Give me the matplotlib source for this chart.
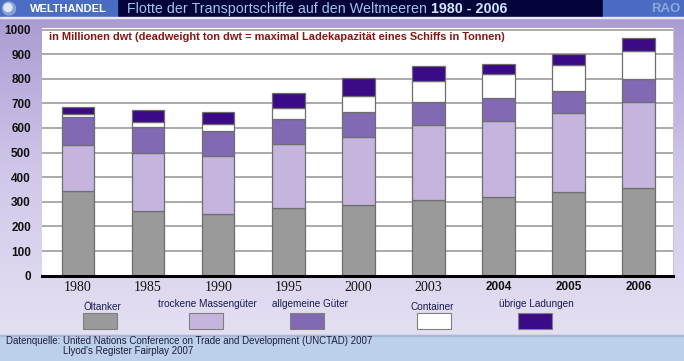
import numpy as np
from matplotlib import pyplot as plt
from matplotlib import colors
from matplotlib.patches import Rectangle, Circle

years = ['1980', '1985', '1990', '1995', '2000', '2003', '2004', '2005', '2006']
oeltanker = [344, 263, 250, 273, 288, 308, 320, 342, 355]
massengueter = [185, 235, 237, 261, 277, 304, 310, 318, 351]
allg_gueter = [115, 105, 101, 102, 98, 93, 91, 92, 93]
container = [12, 21, 28, 47, 65, 87, 99, 105, 115]
uebrige = [31, 50, 51, 59, 77, 58, 42, 45, 50]

series_names = ['Öltanker', 'trockene Massengüter', 'allgemeine Güter', 'Container', 'übrige Ladungen']
series_colors = ['#9a9a9a', '#c5b5de', '#8169b3', '#ffffff', '#3b0a86']

W, H = 684, 361
SANS = ['Liberation Sans', 'DejaVu Sans']
SERIF = ['Liberation Serif', 'DejaVu Serif']


def fx(x):
    return x / W


def fy(y):
    return 1 - y / H


def main():
    fig = plt.figure(figsize=(W / 100, H / 100), dpi=100)

    # background gradient
    bg = fig.add_axes([0, 0, 1, 1], zorder=0)
    bg.set_xlim(0, W)
    bg.set_ylim(H, 0)
    bg.axis('off')
    cmap = colors.LinearSegmentedColormap.from_list('bg', ['#ab9bd3', '#d2c8ea', '#e4e0f2'])
    grad = np.linspace(0, 1, 200).reshape(-1, 1)
    bg.imshow(grad, cmap=cmap, extent=[0, W, 335, 17], aspect='auto')

    # title bar
    bg.add_patch(Rectangle((0, 0), W, 17, color='#03033a'))
    bg.add_patch(Rectangle((0, 0), 117, 17, color='#4a6cc2'))
    bg.add_patch(Rectangle((603, 0), W - 603, 17, color='#4a6cc2'))
    bg.add_patch(Rectangle((0, 17), W, 1.2, color='#e8e8f8'))
    bg.add_patch(Circle((9, 8.5), 6.5, color='#8aa0d8'))
    bg.add_patch(Circle((8, 7.5), 4, color='#dfe6f6'))
    bg.text(30, 9, 'WELTHANDEL', color='white', fontsize=8, fontweight='bold',
            family=SANS, va='center', ha='left')
    t = bg.text(127, 9, 'Flotte der Transportschiffe auf den Weltmeeren ', color='#9fc4ee',
                fontsize=10.3, family=SANS, va='center', ha='left')
    fig.canvas.draw()
    bb = t.get_window_extent()
    bg.text(bb.x1, 9, '1980 - 2006', color='#cfe6ff', fontsize=10.3, fontweight='bold',
            family=SANS, va='center', ha='left')
    bg.text(680, 9, 'RAO', color='#8ba8dd', fontsize=9.5, fontweight='bold',
            family=SANS, va='center', ha='right')

    # source bar
    bg.add_patch(Rectangle((0, 335), W, H - 335, color='#bdd0ea'))
    bg.add_patch(Rectangle((0, 334.5), W, 1, color='#a8b8d6'))
    bg.text(6, 341.5, 'Datenquelle: United Nations Conference on Trade and Development (UNCTAD) 2007',
            color='#1e1e3c', fontsize=7, family=SANS, va='center', ha='left')
    bg.text(63, 351.5, "Llyod's Register Fairplay 2007",
            color='#1e1e3c', fontsize=7, family=SANS, va='center', ha='left')

    # legend
    sw_x = [83, 189, 290, 417, 518]
    lab_x = [102, 207, 310, 432, 536]
    lab_y = [307, 304, 304, 307, 304]
    for i, name in enumerate(series_names):
        bg.add_patch(Rectangle((sw_x[i], 313), 34, 16, facecolor=series_colors[i],
                               edgecolor='#808080', linewidth=0.8))
        bg.text(lab_x[i], lab_y[i], name, color='#1a1a52', fontsize=7.2, family=SANS,
                va='center', ha='center')

    # main chart
    ax = fig.add_axes([fx(42), fy(275.7), fx(673 - 42), (275.7 - 28.3) / H], zorder=2)
    ax.set_facecolor('white')
    x = np.arange(len(years))
    bottom = np.zeros(len(years))
    for vals, col in zip([oeltanker, massengueter, allg_gueter, container, uebrige], series_colors):
        ax.bar(x, vals, width=0.465, bottom=bottom, color=col, edgecolor='#6e6e6e',
               linewidth=0.9, zorder=3)
        bottom += np.array(vals)

    ax.set_xlim(-0.514, 8.49)
    ax.set_ylim(0, 1005)
    ax.set_yticks(range(0, 1001, 100))
    ax.yaxis.grid(True, color='#a4a4a4', linewidth=1.3, zorder=1)
    ax.set_axisbelow(True)
    for s in ['left', 'top']:
        ax.spines[s].set_visible(False)
    ax.spines['right'].set_color('#c8c8c8')
    ax.spines['bottom'].set_color('black')
    ax.spines['bottom'].set_linewidth(2.2)
    ax.spines['bottom'].set_zorder(5)
    ax.tick_params(axis='both', length=0)
    ax.tick_params(axis='y', pad=8)
    ax.tick_params(axis='x', pad=4)
    for lab in ax.get_yticklabels():
        lab.set_fontsize(8.5)
        lab.set_fontweight('bold')
        lab.set_family(SANS)
        lab.set_color('#111111')
    ax.set_xticks(x)
    ax.set_xticklabels(years)
    for i, lab in enumerate(ax.get_xticklabels()):
        lab.set_color('#111111')
        if i < 6:
            lab.set_family(SERIF)
            lab.set_fontsize(10)
        else:
            lab.set_family(SANS)
            lab.set_fontweight('bold')
            lab.set_fontsize(8.5)

    ax.text(7 / (673 - 42), 0.965,
            'in Millionen dwt (deadweight ton dwt = maximal Ladekapazität eines Schiffs in Tonnen)',
            transform=ax.transAxes, color='#8a1414', fontsize=7.9, fontweight='bold',
            family=SANS, va='center', ha='left', zorder=6)

    fig.savefig('out.png', dpi=100)


if __name__ == '__main__':
    main()
